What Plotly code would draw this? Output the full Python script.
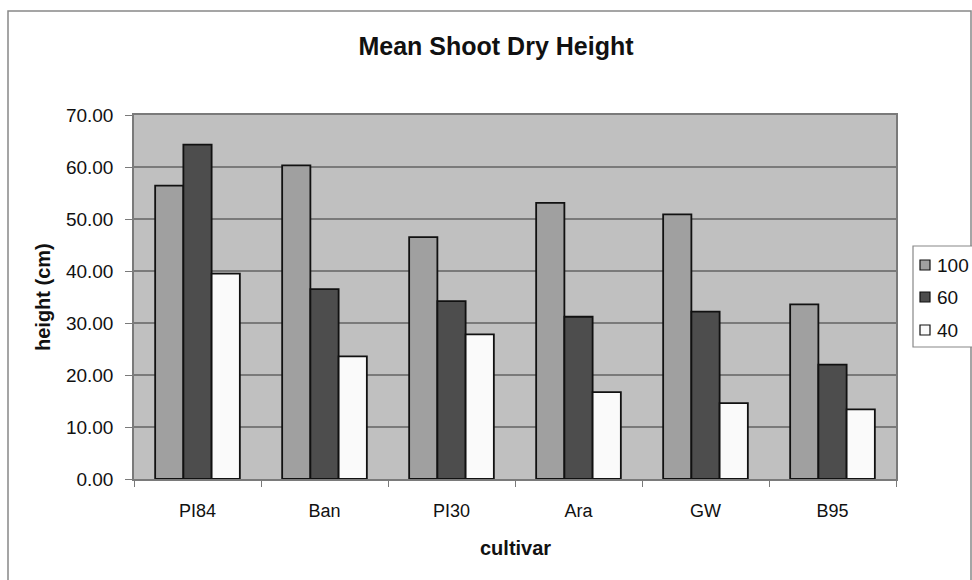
import plotly.graph_objects as go

cultivars = ["PI84", "Ban", "PI30", "Ara", "GW", "B95"]
series_names = ["100", "60", "40"]
vals_100 = [56.4, 60.3, 46.5, 53.1, 50.9, 33.6]
vals_60 = [64.3, 36.5, 34.2, 31.2, 32.2, 22.0]
vals_40 = [39.5, 23.6, 27.8, 16.7, 14.6, 13.4]
colors = ["#A0A0A0", "#4D4D4D", "#FAFAFA"]

W, H = 972, 580
L, R, T, B = 134, 76, 115, 101
PW, PH = W - L - R, H - T - B

def px(x):
    return (x - L) / PW

def py(y):
    return (H - B - y) / PH

FONT = "Liberation Sans, Arial, sans-serif"

fig = go.Figure()
for name, vals, col in zip(series_names, [vals_100, vals_60, vals_40], colors):
    fig.add_trace(go.Bar(x=cultivars, y=vals, name=name,
                         marker=dict(color=col, line=dict(color="#111111", width=1.8))))

fig.update_layout(
    width=W, height=H,
    margin=dict(l=L, r=R, t=T, b=B, autoexpand=False),
    paper_bgcolor="white", plot_bgcolor="#C0C0C0",
    barmode="group", bargap=0.333, bargroupgap=0,
    showlegend=False,
    font=dict(family=FONT, color="#111111", size=18),
    title=dict(text="<b>Mean Shoot Dry Height</b>", x=496 / W, xref="container",
               xanchor="center", y=1 - 46 / H, yref="container", yanchor="middle",
               font=dict(size=25, family=FONT, color="#111111")),
)
fig.update_yaxes(range=[0, 70], dtick=10, tickformat=".2f", showgrid=True,
                 gridcolor="#7A7A7A", gridwidth=1.5, ticks="outside", ticklen=7,
                 tickcolor="#7A7A7A", showline=True, linecolor="#7A7A7A", linewidth=1.5,
                 mirror=True, zeroline=False, ticklabelstandoff=8,
                 tickfont=dict(size=19))
fig.update_xaxes(ticks="outside", tickson="boundaries", ticklen=6, tickcolor="#7A7A7A",
                 showline=True, linecolor="#7A7A7A", linewidth=1.5, mirror=True,
                 ticklabelstandoff=15, tickfont=dict(size=18))

# axis titles
fig.add_annotation(text="<b>height (cm)</b>", xref="paper", yref="paper",
                   x=px(43), y=py(297), textangle=-90, showarrow=False,
                   xanchor="center", yanchor="middle",
                   font=dict(size=20, family=FONT, color="#111111"))
fig.add_annotation(text="<b>cultivar</b>", xref="paper", yref="paper",
                   x=px(515), y=py(548), showarrow=False,
                   xanchor="center", yanchor="middle",
                   font=dict(size=20, family=FONT, color="#111111"))

# outer chart frame
fig.add_shape(type="rect", xref="paper", yref="paper", x0=px(8), x1=px(971),
              y0=py(595), y1=py(11), line=dict(color="#888888", width=1.5),
              fillcolor="rgba(0,0,0,0)", layer="below")

# legend (manual)
fig.add_shape(type="rect", xref="paper", yref="paper", x0=px(913), x1=px(975),
              y0=py(347), y1=py(246), line=dict(color="#888888", width=1.2),
              fillcolor="white")
ys = [265, 297, 330]
for name, col, yy in zip(series_names, colors, ys):
    fig.add_shape(type="rect", xref="paper", yref="paper", x0=px(920), x1=px(930),
                  y0=py(yy + 5), y1=py(yy - 5), line=dict(color="#111111", width=1.2),
                  fillcolor=col)
    fig.add_annotation(text=name, xref="paper", yref="paper", x=px(935), y=py(yy),
                       xanchor="left", yanchor="middle", showarrow=False,
                       font=dict(size=19, family=FONT, color="#111111"))

fig.write_html("out.html", config={"displayModeBar": False},
               post_script="document.body.style.margin='0';document.body.style.overflow='hidden';")
